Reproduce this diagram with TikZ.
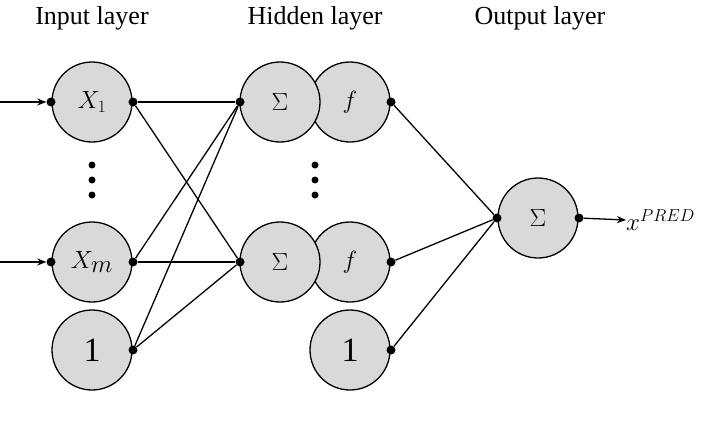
\documentclass[tikz,border=0pt]{standalone}
\usepackage{fontspec}
\setmainfont{Liberation Serif}
\usetikzlibrary{arrows.meta}
\begin{document}
\begin{tikzpicture}[x=1pt,y=-1pt,
  neuron/.style={circle,draw=black,line width=1.3pt,fill=gray!30,minimum size=80pt,inner sep=0pt,font=\fontsize{34}{34}\selectfont},
  pt/.style={circle,fill=black,minimum size=9pt,inner sep=0pt},
  lbl/.style={font=\fontsize{26}{26}\selectfont},
  conn/.style={line width=1.3pt},
  arr/.style={line width=1.3pt,-{Stealth[length=9pt,width=7pt]}},
  vdot/.style={circle,fill=black,minimum size=7pt,inner sep=0pt}]
\useasboundingbox (0,0) rectangle (720,429);
\node[lbl] (t1) at (92,18) {Input layer};
\node[lbl] (t2) at (315,18) {Hidden layer};
\node[lbl] (t3) at (540,18) {Output layer};
% input
\node[neuron] (x1) at (92,102) {$X_{\scriptscriptstyle 1}$};
\node[neuron] (xm) at (92,262) {$X_{\scriptstyle m}$};
\node[neuron] (b1) at (92,350) {1};
% hidden
\node[neuron] (f1) at (350,102) {$f$};
\node[neuron] (s1) at (280,102) {$\Sigma$};
\node[neuron] (f2) at (350,262) {$f$};
\node[neuron] (s2) at (280,262) {$\Sigma$};
\node[neuron] (b2) at (350,350) {1};
% output
\node[neuron] (so) at (538,218) {$\Sigma$};
% vertical dots
\foreach \y/\n in {165/a,180/b,195/c}{
  \node[vdot] (ia\n) at (92,\y) {};
  \node[vdot] (ha\n) at (315,\y) {};
}
% connection points
\node[pt] (px1) at (133,102) {};
\node[pt] (pxm) at (133,262) {};
\node[pt] (pb1) at (133,350) {};
\node[pt] (ps1) at (240,102) {};
\node[pt] (ps2) at (240,262) {};
\node[pt] (pf1) at (391,102) {};
\node[pt] (pf2) at (391,262) {};
\node[pt] (pb2) at (391,350) {};
\node[pt] (pin) at (497,218) {};
\node[pt] (pout) at (579,218) {};
\node[pt] (in1) at (51,102) {};
\node[pt] (inm) at (51,262) {};
\coordinate (e1) at (0,102);
\coordinate (em) at (0,262);
\node[font=\fontsize{34}{34}\selectfont,anchor=west,inner sep=0pt] (xp) at (626,220) {$x^{\scriptscriptstyle PRED}$};
\draw[arr] (e1) -- (in1);
\draw[arr] (em) -- (inm);
\foreach \a in {px1,pxm,pb1}{
  \draw[conn] (\a) -- (ps1);
  \draw[conn] (\a) -- (ps2);
}
\foreach \a in {pf1,pf2,pb2}{
  \draw[conn] (\a) -- (pin);
}
\draw[arr] (pout) -- (xp.west);
\end{tikzpicture}
\end{document}
